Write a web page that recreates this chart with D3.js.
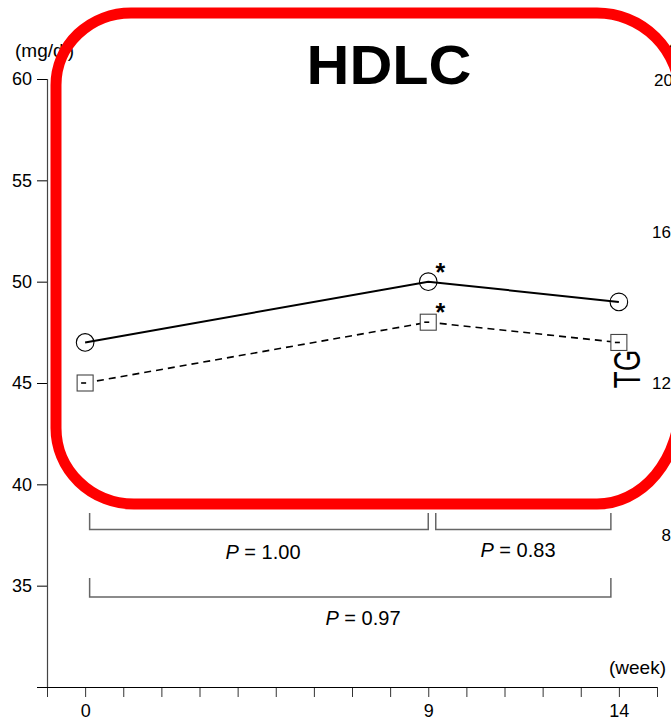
<!DOCTYPE html>
<html>
<head>
<meta charset="utf-8">
<script src="https://cdn.jsdelivr.net/npm/d3@7/dist/d3.min.js"></script>
<style>
  html, body { margin: 0; padding: 0; background: #fff; }
  svg { display: block; }
  text { font-family: "Liberation Sans", Arial, Helvetica, sans-serif; }
</style>
</head>
<body>
<svg id="chart" width="671" height="720"></svg>
<script>
// HDLC over the study weeks, two groups
const weeks = [0, 9, 14];
const groupA = [47, 50, 49];   // circles, solid line
const groupB = [45, 48, 47];   // squares, dashed line
const significant = [false, true, false];

const leftTicks = [35, 40, 45, 50, 55, 60];
const rightTicks = [8, 12, 16, 20];
const weekTicks = d3.range(-1, 16);
const weekLabels = [0, 9, 14];

const comparisons = [
  { from: 0, to: 9, p: "1.00", row: 0 },
  { from: 9, to: 14, p: "0.83", row: 0 },
  { from: 0, to: 14, p: "0.97", row: 1 }
];

const svg = d3.select("#chart");

const x = d3.scaleLinear().domain([-1, 15]).range([47, 657]);
const y = d3.scaleLinear().domain([30, 60]).range([687, 79]);
const yR = d3.scaleLinear().domain([8, 20]).range([534, 79]);

// left axis
const yAxis = d3.axisLeft(y).tickValues(leftTicks).tickSize(10).tickSizeOuter(0).tickPadding(5);
const gy = svg.append("g").attr("transform", "translate(47,0)").call(yAxis);
gy.select(".domain").remove();
gy.selectAll(".tick line").attr("stroke", "#000").attr("stroke-width", 1);
gy.selectAll(".tick text").attr("font-size", 18).attr("fill", "#000")
  .attr("font-family", "Liberation Sans, Arial, sans-serif");
svg.append("line").attr("x1", 47.5).attr("x2", 47.5).attr("y1", y(60)).attr("y2", y(30))
  .attr("stroke", "#444").attr("stroke-width", 1.2);

// bottom axis
const xAxis = d3.axisBottom(x).tickValues(weekTicks).tickSize(10).tickSizeOuter(0).tickPadding(7)
  .tickFormat(d => weekLabels.includes(d) ? String(d) : "");
const gx = svg.append("g").attr("transform", "translate(0," + y(30) + ")").call(xAxis);
gx.select(".domain").remove();
gx.selectAll(".tick line").attr("stroke", "#333").attr("stroke-width", 1);
gx.selectAll(".tick text").attr("font-size", 18).attr("fill", "#000")
  .attr("font-family", "Liberation Sans, Arial, sans-serif");
svg.append("line").attr("x1", 37).attr("x2", x(15)).attr("y1", y(30) + 0.5).attr("y2", y(30) + 0.5)
  .attr("stroke", "#000").attr("stroke-width", 1.2);

svg.append("text").attr("x", 15).attr("y", 57).attr("font-size", 19).text("(mg/dl)");
svg.append("text").attr("x", 666).attr("y", 674).attr("text-anchor", "end").attr("font-size", 19)
  .text("(week)");

// right axis labels (running off the right edge)
svg.selectAll(".rlab").data(rightTicks).join("text")
  .attr("class", "rlab")
  .attr("x", d => d >= 20 ? 673 : 671).attr("y", d => yR(d) + 7)
  .attr("text-anchor", "end").attr("font-size", 17)
  .text(d => d);
svg.append("text").attr("x", 667).attr("y", 57).attr("font-size", 19).text("(mg/dl)");
svg.append("text")
  .attr("transform", "translate(640,369) rotate(-90) scale(0.75,1)")
  .attr("text-anchor", "middle").attr("font-size", 37).text("TG");

// lines
const pts = (vals) => weeks.map((w, i) => [x(w), y(vals[i])]);
const line = d3.line();
svg.append("path").attr("d", line(pts(groupB))).attr("fill", "none")
  .attr("stroke", "#000").attr("stroke-width", 1.6).attr("stroke-dasharray", "7,5");
svg.append("path").attr("d", line(pts(groupA))).attr("fill", "none")
  .attr("stroke", "#000").attr("stroke-width", 2);

// markers
svg.selectAll(".circ").data(weeks).join("circle")
  .attr("cx", d => x(d)).attr("cy", (d, i) => y(groupA[i])).attr("r", 8.8)
  .attr("fill", "none").attr("stroke", "#000").attr("stroke-width", 1.1);
svg.selectAll(".sq").data(weeks).join("rect")
  .attr("x", d => x(d) - 8).attr("y", (d, i) => y(groupB[i]) - 8)
  .attr("width", 16).attr("height", 16)
  .attr("fill", "#fff").attr("stroke", "#444").attr("stroke-width", 1.1);
svg.selectAll(".sqdash").data(weeks).join("line")
  .attr("x1", d => x(d) - 4).attr("x2", d => x(d) + 1)
  .attr("y1", (d, i) => y(groupB[i])).attr("y2", (d, i) => y(groupB[i]))
  .attr("stroke", "#000").attr("stroke-width", 1.6);

// significance stars
weeks.forEach((w, i) => {
  if (!significant[i]) return;
  [groupA[i], groupB[i]].forEach(v => {
    svg.append("text").attr("x", x(w) + 12).attr("y", y(v) - 1)
      .attr("text-anchor", "middle").attr("font-size", 25).attr("font-weight", "bold").text("*");
  });
});

// comparison brackets
const rowTop = [513, 578], rowBot = [529.5, 597], labelY = [559, 625];
comparisons.forEach(c => {
  const x1 = x(c.from) + (c.from === 0 ? 4.5 : 7.5);
  const x2 = x(c.to) + (c.to === 14 ? -8 : 0);
  const t = rowTop[c.row], b = rowBot[c.row];
  svg.append("path").attr("d", `M${x1},${t}V${b}H${x2}V${t}`)
    .attr("fill", "none").attr("stroke", "#666").attr("stroke-width", 1.5);
  const lx = c.row === 1 ? 363 : (c.from === 0 ? 263 : 518);
  const ly = labelY[c.row] - (c.from === 9 ? 2 : 0);
  const tx = svg.append("text").attr("x", lx).attr("y", ly).attr("text-anchor", "middle").attr("font-size", 20);
  tx.append("tspan").attr("font-style", "italic").text("P");
  tx.append("tspan").text(" = " + c.p);
});

// title
svg.append("text").attr("x", 389).attr("y", 84).attr("text-anchor", "middle")
  .attr("font-size", 56).attr("font-weight", "bold")
  .attr("textLength", 165).attr("lengthAdjust", "spacingAndGlyphs").text("HDLC");

// red highlight frame; its right side runs past the edge of the page
const fL = 56, fT = 13, fR = 680, fB = 504;
const frame = [
  `M${fL + 75},${fT}`,
  `H597`,
  `A83,83 0 0 1 ${fR},${fT + 83}`,
  `V${fB - 100}`,
  `A83,100 0 0 1 597,${fB}`,
  `H${fL + 78}`,
  `A78,76 0 0 1 ${fL},${fB - 76}`,
  `V${fT + 72}`,
  `A75,72 0 0 1 ${fL + 75},${fT}`,
  "Z"
].join("");
svg.append("path").attr("d", frame)
  .attr("fill", "none").attr("stroke", "#ff0000").attr("stroke-width", 11);
</script>
</body>
</html>
